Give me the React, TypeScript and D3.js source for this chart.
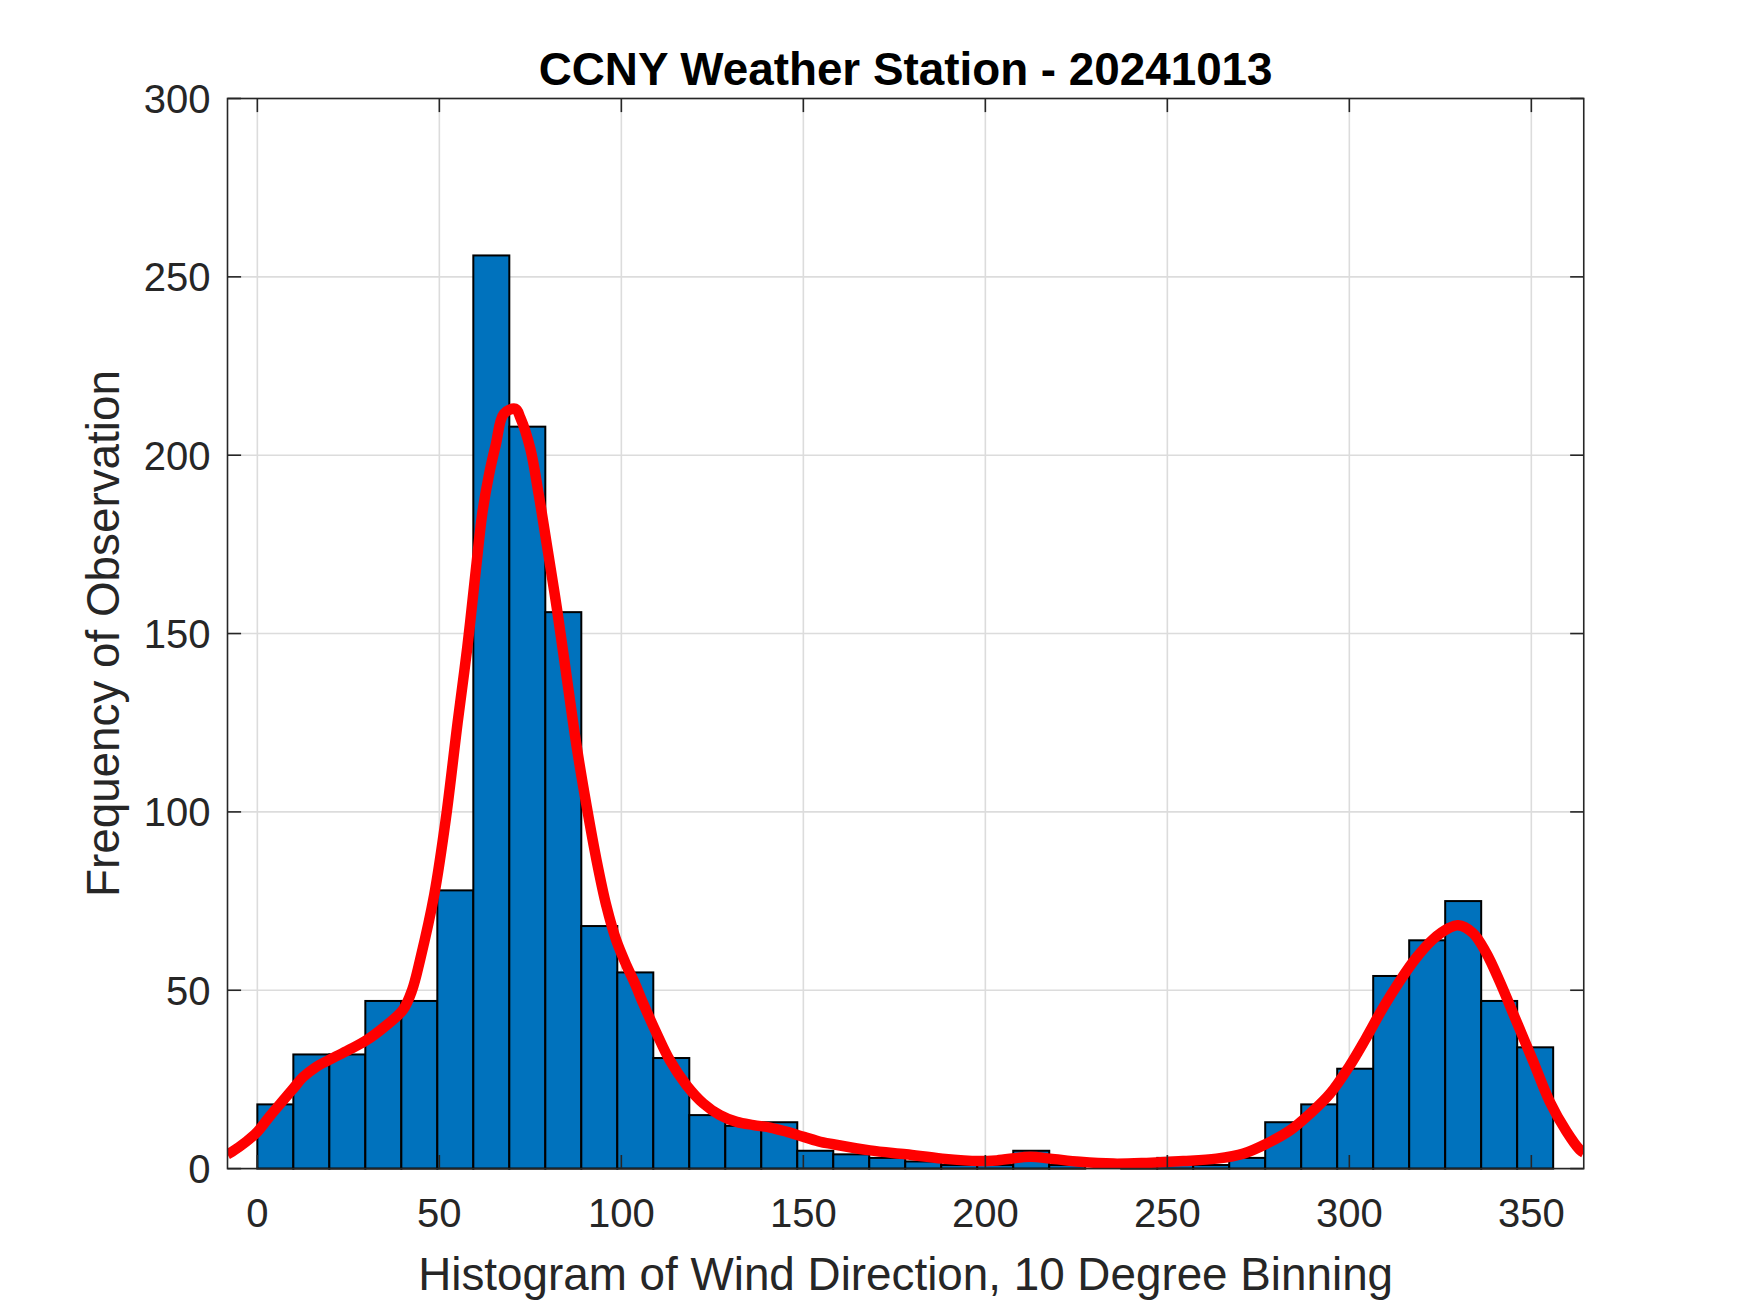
import React, { useEffect, useRef } from 'react';
import * as d3 from 'd3';

// histogram counts, 36 bins spanning 0..356 deg
const binCounts: number[] = [
  18, 32, 32, 47, 47, 78, 256, 208, 156, 68, 55, 31, 15, 12, 13, 5, 4, 3,
  2, 1, 1, 5, 1, 0, 1, 3, 1, 3, 13, 18, 28, 54, 64, 75, 47, 34,
];
const binStart = 0;
const binEnd = 356;

// smoothed density curve
const curveX: number[] = [
  -8.2, -7, -3, 0, 3.5, 7.5, 10, 12.5, 16, 20, 25, 30, 35, 40, 42.5, 44.7, 48.6, 51.8, 55, 57.7, 60, 61.8,
  63.6, 65.5, 67.7, 70.9, 72.3, 75, 77.3, 79.5, 82.3, 85, 87.7, 90.5, 93.2, 95.9, 98.6, 101.4,
  103.6, 106, 109.7, 113.3, 117.9, 122.5, 127.1, 131.7, 136.3, 140.9, 145.5, 150.1, 154.7, 157.3,
  168.3, 178.2, 188.2, 198.1, 203.1, 212.3, 217.8, 226, 235.2, 244.3, 254.4, 263.5, 270.9, 277.3,
  283.7, 289.2, 294.7, 300, 304.6, 309.2, 313.8, 318.3, 322.9, 327.5, 329.8, 333.9, 337.6, 341.3,
  345.9, 350.5, 355, 359.6, 363.3, 364.4,
];
const curveY: number[] = [
  4.0, 4.7, 7.6, 10.3, 14.8, 19.6, 22.6, 25.6, 28.4, 30.6, 33.2, 36.0, 39.8, 44.5, 50, 58.5, 76.8, 98.2, 124.9, 146.3, 167.6, 183.7,
  194.3, 202.9, 211.6, 213, 210.4, 201.8, 189, 175.1, 157, 137.7, 118.5, 101.4, 86.4, 73.6, 64, 57,
  52.2, 46.3, 37.9, 30.4, 23.4, 18.3, 15, 13.1, 12.2, 11.5, 10.3, 8.9, 7.5, 7,
  5.1, 4, 2.8, 2.1, 2.3, 3.3, 2.8, 1.9, 1.4, 1.6, 2.1, 2.8, 4.2, 7,
  10.7, 15.4, 21, 28.7, 36.6, 45, 52.5, 59, 64.2, 67.5, 68.2, 66.1, 60.5, 52.5,
  41.3, 30.1, 18.9, 10.5, 5.3, 4.5,
];

const xTicks: number[] = [0, 50, 100, 150, 200, 250, 300, 350];
const yTicks: number[] = [0, 50, 100, 150, 200, 250, 300];

const title = 'CCNY Weather Station - 20241013';
const xLabel = 'Histogram of Wind Direction, 10 Degree Binning';
const yLabel = 'Frequency of Observation';

const App: React.FC = () => {
  const svgRef = useRef<SVGSVGElement>(null);

  useEffect(() => {
    const width = 1750;
    const height = 1313;
    const left = 227.5;
    const right = 1583.75;
    const top = 98.5;
    const bottom = 1168.6;
    const font = '"Liberation Sans", Arial, Helvetica, sans-serif';
    const axisColor = '#262626';
    const tickLen = 13.6;

    const svg = d3.select(svgRef.current)
      .attr('width', width)
      .attr('height', height)
      .attr('viewBox', [0, 0, width, height].join(' '));
    svg.selectAll('*').remove();

    svg.append('rect').attr('width', width).attr('height', height).attr('fill', '#ffffff');

    const x = d3.scaleLinear().domain([-8.2, 364.4]).range([left, right]);
    const y = d3.scaleLinear().domain([0, 300]).range([bottom, top]);

    // grid
    const grid = svg.append('g').attr('stroke', '#dcdcdc').attr('stroke-width', 1.6);
    xTicks.forEach(t => {
      grid.append('line').attr('x1', x(t)).attr('x2', x(t)).attr('y1', top).attr('y2', bottom);
    });
    yTicks.forEach(t => {
      grid.append('line').attr('x1', left).attr('x2', right).attr('y1', y(t)).attr('y2', y(t));
    });

    // bars
    const binW = (binEnd - binStart) / binCounts.length;
    svg.append('g')
      .selectAll('rect')
      .data(binCounts)
      .enter()
      .append('rect')
      .attr('x', (_, i) => x(binStart + i * binW))
      .attr('width', (_, i) => x(binStart + (i + 1) * binW) - x(binStart + i * binW))
      .attr('y', d => y(d))
      .attr('height', d => y(0) - y(d))
      .attr('fill', '#0072BD')
      .attr('stroke', '#000000')
      .attr('stroke-width', 2);

    // density curve
    const pts: [number, number][] = curveX.map((v, i) => [v, curveY[i]]);
    const line = d3.line<[number, number]>()
      .x(d => x(d[0]))
      .y(d => y(d[1]))
      .curve(d3.curveCatmullRom.alpha(0.5));
    svg.append('defs').append('clipPath').attr('id', 'plotClip')
      .append('rect').attr('x', left).attr('y', top).attr('width', right - left).attr('height', bottom - top);
    svg.append('path')
      .attr('d', line(pts) as string)
      .attr('fill', 'none')
      .attr('stroke', '#ff0000')
      .attr('stroke-width', 10.5)
      .attr('stroke-linejoin', 'round')
      .attr('clip-path', 'url(#plotClip)');

    // box + ticks
    const ax = svg.append('g').attr('stroke', axisColor).attr('stroke-width', 1.6).attr('fill', 'none');
    ax.append('rect').attr('x', left).attr('y', top).attr('width', right - left).attr('height', bottom - top);
    xTicks.forEach(t => {
      ax.append('line').attr('x1', x(t)).attr('x2', x(t)).attr('y1', bottom).attr('y2', bottom - tickLen);
      ax.append('line').attr('x1', x(t)).attr('x2', x(t)).attr('y1', top).attr('y2', top + tickLen);
    });
    yTicks.forEach(t => {
      ax.append('line').attr('x1', left).attr('x2', left + tickLen).attr('y1', y(t)).attr('y2', y(t));
      ax.append('line').attr('x1', right).attr('x2', right - tickLen).attr('y1', y(t)).attr('y2', y(t));
    });

    // tick labels
    svg.append('g')
      .selectAll('text')
      .data(xTicks)
      .enter()
      .append('text')
      .attr('x', d => x(d))
      .attr('y', bottom + 58)
      .attr('text-anchor', 'middle')
      .attr('font-family', font)
      .attr('font-size', 40)
      .attr('fill', axisColor)
      .text(d => String(d));

    svg.append('g')
      .selectAll('text')
      .data(yTicks)
      .enter()
      .append('text')
      .attr('x', left - 17)
      .attr('y', d => y(d) + 14.3)
      .attr('text-anchor', 'end')
      .attr('font-family', font)
      .attr('font-size', 40)
      .attr('fill', axisColor)
      .text(d => String(d));

    // labels
    svg.append('text')
      .attr('x', (left + right) / 2)
      .attr('y', 1290)
      .attr('text-anchor', 'middle')
      .attr('font-family', font)
      .attr('font-size', 45.8)
      .attr('fill', axisColor)
      .text(xLabel);

    svg.append('text')
      .attr('transform', `translate(119,${(top + bottom) / 2}) rotate(-90)`)
      .attr('text-anchor', 'middle')
      .attr('font-family', font)
      .attr('font-size', 45.8)
      .attr('fill', axisColor)
      .text(yLabel);

    svg.append('text')
      .attr('x', (left + right) / 2)
      .attr('y', 85)
      .attr('text-anchor', 'middle')
      .attr('font-family', font)
      .attr('font-size', 45.8)
      .attr('font-weight', 'bold')
      .attr('fill', '#000000')
      .text(title);
  }, []);

  return (
    <svg ref={svgRef} style={{ position: 'absolute', left: 0, top: 0, display: 'block' }}></svg>
  );
};

export default App;
